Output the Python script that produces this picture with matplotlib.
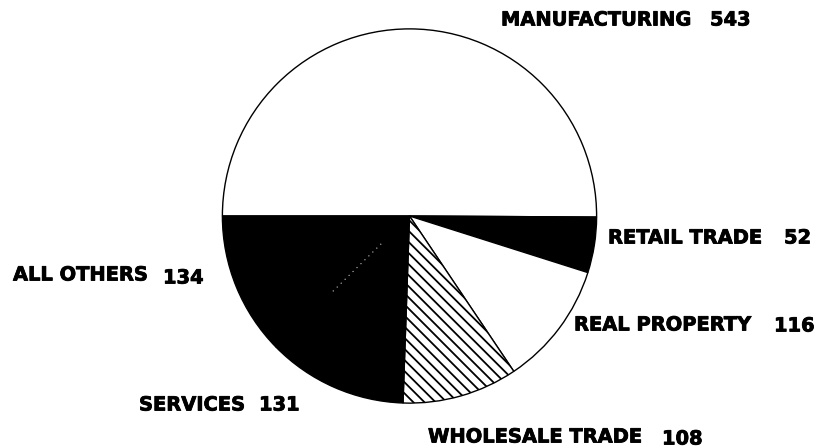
import matplotlib.pyplot as plt
import matplotlib.patheffects as pe
import numpy as np

plt.rcParams['font.family'] = ['DejaVu Sans']
plt.rcParams['hatch.linewidth'] = 1.3

# data
sectors = ['MANUFACTURING', 'RETAIL TRADE', 'REAL PROPERTY',
           'WHOLESALE TRADE', 'SERVICES', 'ALL OTHERS']
values = [543, 52, 116, 108, 131, 134]
fills = ['white', 'black', 'white', 'white', 'black', 'black']
hatches = [None, None, None, '\\\\\\', None, None]

# label placement in pixels: name left x, number left x, vertical centre
name_x = [501, 608, 574, 428, 139, 13]
num_x = [710, 784, 774, 662, 259, 163]
label_y = [20, 238, 325, 437, 405, 275]
num_dy = [0, 0, 1, 2, 0, 3]

W, H = 821, 448
fig = plt.figure(figsize=(W / 100, H / 100), dpi=100, facecolor='white')

cx, cy, r = 409.5, 216, 189
ax = fig.add_axes([(cx - r) / W, (H - cy - r) / H, 2 * r / W, 2 * r / H])

wedges, _ = ax.pie(values, colors=fills, startangle=180, counterclock=False,
                   radius=0.99,
                   wedgeprops=dict(edgecolor='black', linewidth=1.0))
for w, h in zip(wedges, hatches):
    if h:
        w.set_hatch(h)

# faint dotted boundary between the two black sectors
theta = np.deg2rad(wedges[4].theta1)
rr = np.array([0.21, 0.59])
ax.plot(rr * np.cos(theta), rr * np.sin(theta), color='white', lw=0.8,
        linestyle=(0, (1, 4)), alpha=0.8)

ax.set_xlim(-1, 1)
ax.set_ylim(-1, 1)
ax.set_aspect('equal')
ax.axis('off')

heavy = [pe.withStroke(linewidth=0.6, foreground='black')]
for name, val, nx, vx, y, dy in zip(sectors, values, name_x, num_x, label_y, num_dy):
    fig.text(nx / W, 1 - y / H, name, fontsize=14, fontweight='bold',
             ha='left', va='center', color='black', path_effects=heavy)
    fig.text(vx / W, 1 - (y + dy) / H, str(val), fontsize=14, fontweight='bold',
             ha='left', va='center', color='black', path_effects=heavy)

plt.savefig('out.png', dpi=100, facecolor='white')
